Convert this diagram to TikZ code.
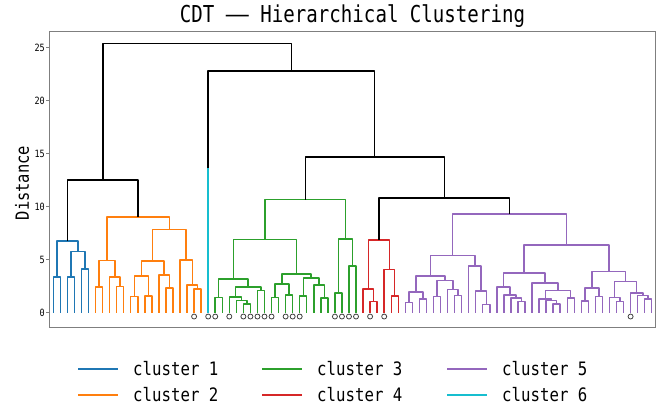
\documentclass[tikz,border=0pt]{standalone}
\usepackage{fontspec}
\newfontfamily\monof[FakeStretch=0.85]{DejaVu Sans Mono}
\newfontfamily\titlef[FakeStretch=0.82]{DejaVu Sans Mono}
\definecolor{cA}{HTML}{1F77B4}
\definecolor{cB}{HTML}{FF7F0E}
\definecolor{cC}{HTML}{2CA02C}
\definecolor{cD}{HTML}{D62728}
\definecolor{cE}{HTML}{9467BD}
\definecolor{cF}{HTML}{17BECF}
\definecolor{framec}{HTML}{7F7F7F}
\tikzset{
  lnk/.style={line width=1.45pt, line join=round},
  leafmark/.style={circle, draw=black!75, fill=white, line width=0.8pt, inner sep=0pt, minimum size=5pt},
  ticklab/.style={font=\monof\fontsize{10}{12}\selectfont, anchor=east, inner sep=0pt},
  leglab/.style={font=\monof\fontsize{18.5}{22}\selectfont, anchor=west, inner sep=0pt},
  legline/.style={line width=1.6pt}
}
\begin{document}
\begin{tikzpicture}[x=1pt,y=-1pt]
\useasboundingbox (0,0) rectangle (663,405);
% title
\node[font=\titlef\fontsize{23.3}{28}\selectfont, anchor=base, inner sep=0pt] (title) at (352.5,22) {CDT \scalebox{2}[1]{—} Hierarchical Clustering};
% axis label
\node[font=\monof\fontsize{18.2}{22}\selectfont, rotate=90, inner sep=0pt] (ylab) at (22,183) {Distance};
% frame
\draw[framec, line width=1.1pt] (49.8,31.7) rectangle (655.2,327.5);
% ticks
\foreach \t in {0,5,10,15,20,25}{
  \draw[framec, line width=0.9pt] (46.0,{312.5-10.6*\t}) -- (49.8,{312.5-10.6*\t});
  \node[ticklab] (tk\t) at (45,{312.5-10.6*\t}) {\t};
}
\begin{scope}[shift={(53.3,312.5)}, x=7.04pt, y=10.6pt]
% cluster 1
\foreach \xa/\ya/\xb/\yb/\hh in {0/0/1/0/3.33, 2/0/3/0/3.33, 4/0/5/0/4.12, 2.5/3.33/4.5/4.12/5.78, 0.5/3.33/3.5/5.78/6.73}
  \draw[lnk, cA] (\xa,\ya) |- (\xb,\hh) -- (\xb,\yb);
% cluster 2
\foreach \xa/\ya/\xb/\yb/\hh in {6/0/7/0/2.39, 9/0/10/0/2.45, 8/0/9.5/2.45/3.33, 6.5/2.39/8.75/3.33/4.91,
  11/0/12/0/1.51, 13/0/14/0/1.57, 11.5/1.51/13.5/1.57/3.43, 16/0/17/0/2.33, 15/0/16.5/2.33/3.55,
  12.5/3.43/15.75/3.55/4.84, 20/0/21/0/2.23, 19/0/20.5/2.23/2.61, 18/0/19.75/2.61/4.97,
  14.125/4.84/18.875/4.97/7.83, 7.625/4.91/16.5/7.83/8.99}
  \draw[lnk, cB] (\xa,\ya) |- (\xb,\hh) -- (\xb,\yb);
% cluster 6
\draw[lnk, cF] (22,0) -- (22,13.6);
% cluster 3
\foreach \xa/\ya/\xb/\yb/\hh in {23/0/24/0/1.39, 27/0/28/0/0.82, 26/0/27.5/0.82/1.13, 25/0/26.75/1.13/1.45,
  29/0/30/0/2.08, 25.875/1.45/29.5/2.08/2.39, 23.5/1.39/27.6875/2.39/3.18,
  31/0/32/0/1.39, 33/0/34/0/1.67, 31.5/1.39/33.5/1.67/2.7, 35/0/36/0/1.57, 38/0/39/0/1.35,
  37/0/38.5/1.35/2.61, 35.5/1.57/37.75/2.61/3.24, 32.5/2.7/36.625/3.24/3.65,
  25.59375/3.18/34.5625/3.65/6.89, 40/0/41/0/1.82, 42/0/43/0/4.37, 40.5/1.82/42.5/4.37/6.95,
  30.078/6.89/41.5/6.95/10.66}
  \draw[lnk, cC] (\xa,\ya) |- (\xb,\hh) -- (\xb,\yb);
% cluster 4
\foreach \xa/\ya/\xb/\yb/\hh in {45/0/46/0/1.04, 44/0/45.5/1.04/2.23, 48/0/49/0/1.54, 47/0/48.5/1.54/4.06,
  44.75/2.23/47.75/4.06/6.82}
  \draw[lnk, cD] (\xa,\ya) |- (\xb,\hh) -- (\xb,\yb);
% cluster 5
\foreach \xa/\ya/\xb/\yb/\hh in {50/0/51/0/0.97, 52/0/53/0/1.29, 50.5/0.97/52.5/1.29/1.92,
  54/0/55/0/1.51, 57/0/58/0/1.6, 56/0/57.5/1.6/2.17, 54.5/1.51/56.75/2.17/3.02,
  51.5/1.92/55.625/3.02/3.43, 61/0/62/0/0.75, 60/0/61.5/0.75/2.01, 59/0/60.75/2.01/4.37,
  53.5625/3.43/59.875/4.37/5.38,
  66/0/67/0/1.04, 65/0/66.5/1.04/1.35, 64/0/65.75/1.35/1.67, 63/0/64.875/1.67/2.39,
  71/0/72/0/0.82, 70/0/71.5/0.82/1.13, 69/0/70.75/1.13/1.29, 73/0/74/0/1.35,
  69.875/1.29/73.5/1.35/2.08, 68/0/71.6875/2.08/2.8, 63.9375/2.39/69.84375/2.8/3.71,
  75/0/76/0/1.07, 77/0/78/0/1.51, 75.5/1.07/77.5/1.51/2.33, 80/0/81/0/1.04, 79/0/80.5/1.04/1.39,
  84/0/85/0/1.29, 83/0/84.5/1.29/1.6, 82/0/83.75/1.6/1.82, 79.75/1.39/82.875/1.82/2.92,
  76.5/2.33/81.3125/2.92/3.87, 66.890625/3.71/78.90625/3.87/6.38,
  56.71875/5.38/72.8984/6.38/9.31}
  \draw[lnk, cE] (\xa,\ya) |- (\xb,\hh) -- (\xb,\yb);
% upper links
\foreach \xa/\ya/\xb/\yb/\hh in {2/6.73/12.0625/8.99/12.5, 46.25/6.82/64.8086/9.31/10.8,
  35.789/10.66/55.529/10.8/14.67, 22/13.6/45.659/14.67/22.8, 7.031/12.5/33.83/22.8/25.4}
  \draw[lnk, black] (\xa,\ya) |- (\xb,\hh) -- (\xb,\yb);
% leaf markers
\foreach \k in {20,22,23,25,27,28,29,30,31,33,34,35,40,41,42,43,45,47,82}
  \node[leafmark] (m\k) at (\k,-0.38) {};
\end{scope}
% legend
\foreach \c/\lx/\ly/\n in {cA/78/369/1, cB/78/395/2, cC/262/369/3, cD/262/395/4, cE/447/369/5, cF/447/395/6}{
  \draw[legline, \c] (\lx,\ly) -- ({\lx+40},\ly);
  \node[leglab] (lg\n) at ({\lx+55},\ly) {cluster \n};
}
\end{tikzpicture}
\end{document}
